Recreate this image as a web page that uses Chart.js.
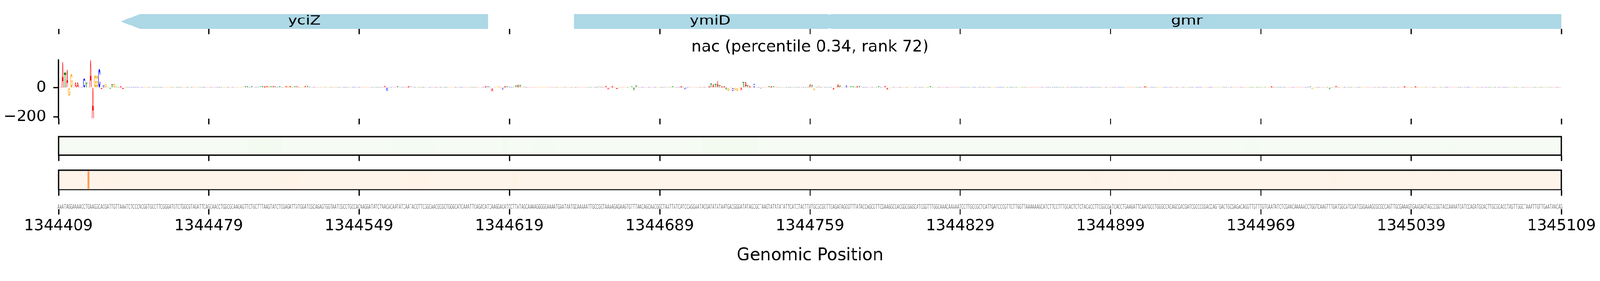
<!DOCTYPE html>
<html lang="en">
<head>
<meta charset="UTF-8">
<title>nac attribution track</title>
<script src="https://cdn.jsdelivr.net/npm/chart.js"></script>
<style>
  html, body { margin: 0; padding: 0; background: #fff; overflow: hidden; }
  #page { position: relative; width: 4320px; height: 720px; overflow: hidden; background: #fff; transform-origin: 0 0; }
  .panel { position: absolute; left: 0; width: 4320px; }
</style>
</head>
<body>
<div id="page">
  <div class="panel" style="top:0px"><canvas id="genes" width="4320" height="172"></canvas></div>
  <div class="panel" style="top:90px"><canvas id="logo" width="4320" height="260"></canvas></div>
  <div class="panel" style="top:355px"><canvas id="green" width="4320" height="81"></canvas></div>
  <div class="panel" style="top:440px"><canvas id="orange" width="4320" height="89"></canvas></div>
  <div class="panel" style="top:520px"><canvas id="seq" width="4320" height="200"></canvas></div>
</div>
<script>
// ---- data ----
const seqStart = 1344409;
const seqEnd = 1345109;
const xTicks = [1344409, 1344479, 1344549, 1344619, 1344689, 1344759, 1344829, 1344899, 1344969, 1345039, 1345109];
const yTicks = [-200, 0];
const titleText = 'nac (percentile 0.34, rank 72)';
const xTitle = 'Genomic Position';

const seqPart0 = 'AAATAGGAAAACCTGAAGGCACGATTGTTAAATCTCCCACGGTGCCTTCGGGATGTCTGGCGTAGATTCAGCAACCTGGCGCAAGAGTTCTGCTTTAAGTATCTCGAGATTATGGAT';
const seqPart1 = 'CGCAGAGTGGTAATCGCCTGCCACAAGGATATCTAACACAATATCAATACGTTCGGCAACGCGCTGGGCATCAAATTCAGACATCAAGGACATCCTTATAGCAAAAGGGGGAAAATG';
const seqPart2 = 'AATAATGCAAAAATTGCCGCTAAAAGAGAAGTGTTTAACAGCAACGGCTAATTATCATCCAGGAATACGATATATAATGACGGGATATAGCGCTAAGTATATATATTCATCTACTTA';
const seqPart3 = 'TGCGCGCTTCAGATAGCGTTTATACCAGCGTTCGAAGGCGACGGCGGGCATCGGTTTGGCAAACAAAAATCCTTGCCGCTCATTGATCCCGTTCTTGGTTAAAAAAGCATCTTCCTT';
const seqPart4 = 'TGCACTCTCTACACCTTCGGCGATCACCTGAAGATTCAATGCCTGGGCCACAGCGACGATCGCCCGGACCAGTGACTGCGAGACAGGTTGTTTGTGAATATCTCGAACAAAAACCTGG';
const seqPart5 = 'TCAAGTTTGATGGCATCGATCGGAAAGCGCGCCAGTTGCGAAAGTGAAGAGTAGCCGGTACCAAAATCATCCAGATGCACTTGCGCACCTAGTTGGCTAAATTGTTGAATAACAG';
const sequence = seqPart0 + seqPart1 + seqPart2 + seqPart3 + seqPart4 + seqPart5;

const geneNames  = ['yciZ', 'ymiD', 'gmr'];
const geneStart  = [1344438, 1344649, 1344760];
const geneEnd    = [1344609, 1344776, 1345300];
const geneStrand = [-1, 1, -1];

// logo letter heights (offset from seqStart -> value); other positions are tiny
const logoIdx = [0, 1, 2, 3, 4, 5, 6, 7, 8, 9, 10, 11, 12, 13, 14, 15, 16, 17, 18, 19, 20, 21, 22, 23, 24, 25, 26, 27, 28, 29, 30,
  86, 87, 88, 90, 93, 94, 95, 96, 97, 98, 99, 100, 101, 102, 103, 106, 107, 108, 110, 111, 115, 116,
  152, 153, 156, 158, 160, 163, 164, 166,
  199, 200, 202, 205, 207, 208, 209, 213, 214, 215, 217,
  221, 250, 251, 252, 255, 256, 258, 260, 267, 268, 269, 285, 286, 290, 292, 294,
  302, 303, 304, 305, 306, 307, 308, 309, 310, 311, 312, 313, 314, 315, 316, 317, 318, 319, 320, 321, 322, 323, 324, 325, 327,
  331, 332, 333, 336, 338,
  350, 351, 352, 354, 355, 361, 363, 364, 365, 367, 369, 370, 372, 373, 379, 382, 385, 386,
  400, 406, 413, 425, 428, 440, 447, 455,
  484, 498, 503, 506, 509, 512, 536, 553, 556, 565,
  583, 584, 592, 595, 596, 599, 620, 627, 632, 640, 643, 650, 656, 658];
const logoVal = [3, 4, 174, 102, 123, -54, 94, 4, 33, 33, 5, 4, 64, 30, 4, 187, -212, 85, 81, 129, -7, 18, 24, 3, -7, 22, 24, 4, 5, 8, -8,
  6, 7, 8, 6, 5, 7, 8, 6, 11, 9, 8, 12, 6, 5, 6, 10, 8, 12, 8, 11, 12, 10,
  10, -20, 5, 6, 5, 6, 7, 5,
  7, 8, -25, 9, -16, 8, 8, 14, 22, 18, 8,
  5, 6, 6, 7, 12, -10, 6, -8, 8, -20, 15, 5, 6, 7, -14, 5,
  5, 8, 26, 22, 25, 47, 18, 9, 9, -16, -22, 4, -22, -16, -22, 6, -19, 41, 39, 18, 7, 5, 24, 5, -8,
  6, 7, 6, 5, 5,
  19, 16, -18, 11, 5, -14, 22, 13, 5, 15, 8, 9, 9, 10, 5, 6, 12, -13,
  5, 6, 5, 5, 6, 5, 6, 5,
  5, 5, 5, 7, 5, 5, 5, 6, 5, 6,
  9, -7, -10, 10, 5, 5, 5, 6, 7, 5, 5, 5, 6, 5];
const smallHeight = 3;

// heatmap bands (offset ranges and colour-map values)
const greenBase = 0.01;
const greenFrom = [89, 156, 207, 222, 300, 553, 620, 648];
const greenTo   = [104, 175, 209, 230, 325, 558, 620, 650];
const greenVal  = [0.025, 0.02, 0.025, 0.02, 0.025, 0.02, 0.018, 0.02];
const orangeBase = 0.005;
const orangeFrom = [14, 20, 104, 163, 212, 482, 495, 517, 593, 631, 642, 650, 666];
const orangeTo   = [14, 28, 111, 171, 213, 484, 497, 517, 595, 631, 642, 650, 666];
const orangeVal  = [0.43, 0.018, 0.018, 0.018, 0.025, 0.015, 0.015, 0.015, 0.02, 0.015, 0.015, 0.015, 0.015];

// ---- styling ----
const FONT = '"DejaVu Sans", sans-serif';
const letterColor = { A: '#ff0000', C: '#0000ff', G: '#ffa500', T: '#008000' };
const greensStops = [[0, '#f7fcf5'], [0.125, '#e5f5e0'], [0.25, '#c7e9c0'], [0.375, '#a1d99b'], [0.5, '#74c476'], [0.625, '#41ab5d'], [0.75, '#238b45'], [0.875, '#006d2c'], [1, '#00441b']];
const orangesStops = [[0, '#fff5eb'], [0.125, '#fee6ce'], [0.25, '#fdd0a2'], [0.375, '#fdae6b'], [0.5, '#fd8d3c'], [0.625, '#f16913'], [0.75, '#d94801'], [0.875, '#a63603'], [1, '#7f2704']];
const HEAD_BP = 8.9;
const PLOT_LEFT = 158, PLOT_RIGHT_PAD = 104;

// keep the 4320x720 layout inside whatever CSS viewport the window reports
const page = document.getElementById('page');
const fit = Math.min(window.innerWidth / 4320, window.innerHeight / 720);
if (fit > 0 && Math.abs(fit - 1) > 0.001) page.style.transform = 'scale(' + fit + ')';

Chart.defaults.font.family = FONT;

function hexRgb(h) { return [parseInt(h.slice(1, 3), 16), parseInt(h.slice(3, 5), 16), parseInt(h.slice(5, 7), 16)]; }
function cmap(stops, v) {
  v = Math.max(0, Math.min(1, v));
  for (let k = 1; k < stops.length; k++) {
    if (v <= stops[k][0]) {
      const t = (v - stops[k - 1][0]) / (stops[k][0] - stops[k - 1][0]);
      const a = hexRgb(stops[k - 1][1]), b = hexRgb(stops[k][1]);
      return 'rgb(' + a.map((c, j) => Math.round(c + (b[j] - c) * t)).join(',') + ')';
    }
  }
  return stops[stops.length - 1][1];
}

const nPos = sequence.length;
const logoHeights = new Array(nPos).fill(smallHeight);
logoIdx.forEach((p, k) => { logoHeights[p] = logoVal[k]; });
const logoPoints = logoHeights.map((v, i) => ({ x: seqStart + i, y: v }));

function bandValues(base, from, to, val) {
  const out = new Array(nPos).fill(base);
  from.forEach((f, k) => { for (let p = f; p <= to[k]; p++) out[p] = val[k]; });
  return out;
}
const greenValues = bandValues(greenBase, greenFrom, greenTo, greenVal);
const orangeValues = bandValues(orangeBase, orangeFrom, orangeTo, orangeVal);

const tickGrid = { display: true, drawOnChartArea: false, drawTicks: true, tickLength: 14.6, tickWidth: 3.3, tickColor: '#000', offset: false };

function xAxis(height, showLabels) {
  return {
    type: 'linear', min: seqStart, max: seqEnd, offset: false,
    afterBuildTicks: s => { s.ticks = xTicks.map(v => ({ value: v })); },
    afterFit: s => { s.height = height; },
    ticks: { display: showLabels, maxRotation: 0, autoSkip: false, padding: 7, color: '#000',
             font: { family: FONT, size: 41.67 }, callback: v => String(v) },
    grid: tickGrid,
    border: { display: false }
  };
}

const common = {
  responsive: false, animation: false, devicePixelRatio: 1, events: []
};
const noPlugins = { legend: { display: false }, tooltip: { enabled: false }, title: { display: false } };

// ---- plugins drawing through the scales ----
const geneShapes = {
  id: 'geneShapes',
  afterDatasetsDraw(chart) {
    const { ctx, chartArea: a, scales: { x, y } } = chart;
    const top = y.getPixelForValue(1), bot = y.getPixelForValue(0), mid = (top + bot) / 2;
    const head = x.getPixelForValue(seqStart + HEAD_BP) - x.getPixelForValue(seqStart);
    ctx.save();
    ctx.beginPath(); ctx.rect(a.left, 0, a.right - a.left, chart.height); ctx.clip();
    ctx.fillStyle = '#add8e6';
    geneNames.forEach((name, k) => {
      const x0 = x.getPixelForValue(geneStart[k]), x1 = x.getPixelForValue(geneEnd[k]);
      ctx.beginPath();
      if (geneStrand[k] < 0) {
        ctx.moveTo(x0, mid); ctx.lineTo(x0 + head, top); ctx.lineTo(x1, top); ctx.lineTo(x1, bot); ctx.lineTo(x0 + head, bot);
      } else {
        ctx.moveTo(x0, top); ctx.lineTo(x1 - head, top); ctx.lineTo(x1, mid); ctx.lineTo(x1 - head, bot); ctx.lineTo(x0, bot);
      }
      ctx.closePath(); ctx.fill();
    });
    ctx.fillStyle = '#000';
    ctx.font = '34px ' + FONT;
    ctx.textAlign = 'center';
    ctx.textBaseline = 'middle';
    geneNames.forEach((name, k) => {
      const c = (Math.max(geneStart[k], seqStart) + Math.min(geneEnd[k], seqEnd)) / 2;
      ctx.save();
      ctx.translate(x.getPixelForValue(c), mid - 1);
      ctx.scale(1.24, 1);
      ctx.fillText(name, 0, 0);
      ctx.restore();
    });
    ctx.restore();
  }
};

const glyphCache = {};
function glyphMetrics(ctx, ch) {
  if (!glyphCache[ch]) {
    ctx.font = 'bold 200px "Liberation Sans", sans-serif';
    const m = ctx.measureText(ch);
    glyphCache[ch] = { l: m.actualBoundingBoxLeft, r: m.actualBoundingBoxRight, a: m.actualBoundingBoxAscent, d: m.actualBoundingBoxDescent };
  }
  return glyphCache[ch];
}

const logoLetters = {
  id: 'logoLetters',
  afterDatasetsDraw(chart) {
    const { ctx, chartArea: a } = chart;
    const meta = chart.getDatasetMeta(0);
    ctx.save();
    ctx.beginPath(); ctx.rect(a.left, a.top, a.right - a.left, a.bottom - a.top); ctx.clip();
    ctx.textAlign = 'left';
    ctx.textBaseline = 'alphabetic';
    meta.data.forEach((bar, i) => {
      const p = bar.getProps(['x', 'y', 'base', 'width'], true);
      const top = Math.min(p.y, p.base), h = Math.abs(p.base - p.y);
      if (h < 0.2) return;
      const ch = sequence[i];
      const g = glyphMetrics(ctx, ch);
      ctx.save();
      ctx.translate(p.x - p.width / 2, top);
      ctx.scale(p.width / (g.l + g.r), h / (g.a + g.d));
      ctx.font = 'bold 200px "Liberation Sans", sans-serif';
      ctx.fillStyle = letterColor[ch];
      ctx.fillText(ch, g.l, g.a);
      ctx.restore();
    });
    ctx.restore();
  }
};

function heatFrame(baseColor) {
  return {
    id: 'heatFrame',
    beforeDatasetsDraw(chart) {
      const { ctx, chartArea: a } = chart;
      ctx.save();
      ctx.fillStyle = baseColor;
      ctx.fillRect(a.left, a.top, a.right - a.left, a.bottom - a.top);
      ctx.restore();
    },
    afterDatasetsDraw(chart) {
      const { ctx, chartArea: a } = chart;
      ctx.save();
      ctx.strokeStyle = '#d4d4d4';
      ctx.lineWidth = 1.5;
      ctx.beginPath();
      ctx.moveTo(a.left, a.top + 2.4); ctx.lineTo(a.right, a.top + 2.4);
      ctx.moveTo(a.left, a.bottom - 3.6); ctx.lineTo(a.right, a.bottom - 3.6);
      ctx.stroke();
      ctx.strokeStyle = '#000';
      ctx.lineWidth = 3.3;
      ctx.strokeRect(a.left, a.top, a.right - a.left, a.bottom - a.top - 1.4);
      ctx.restore();
    }
  };
}

const seqLetters = {
  id: 'seqLetters',
  afterDraw(chart) {
    const { ctx, chartArea: a, scales: { x } } = chart;
    ctx.save();
    ctx.font = '16px ' + FONT;
    ctx.fillStyle = '#707070';
    ctx.textAlign = 'center';
    ctx.textBaseline = 'alphabetic';
    for (let i = 0; i < sequence.length; i++) {
      const px = x.getPixelForValue(seqStart + i);
      ctx.save();
      ctx.translate(px, a.bottom - 1);
      ctx.scale(0.5, 1);
      ctx.fillText(sequence[i], 0, 0);
      ctx.restore();
    }
    ctx.restore();
  }
};

// ---- charts ----
// gene track; the logo panel's title sits in this chart's bottom title box so it centres over the plot
new Chart(document.getElementById('genes'), {
  type: 'scatter',
  data: { datasets: [{ data: [] }] },
  options: Object.assign({}, common, {
    layout: { padding: { left: PLOT_LEFT, right: PLOT_RIGHT_PAD, top: 38, bottom: 0 } },
    plugins: {
      legend: { display: false }, tooltip: { enabled: false },
      title: { display: true, position: 'bottom', text: titleText, color: '#000',
               font: { family: FONT, size: 43, weight: 'normal' }, padding: { top: 2, bottom: 18.4 } }
    },
    scales: { x: xAxis(22, false), y: { display: false, min: 0, max: 1 } }
  }),
  plugins: [geneShapes]
});

new Chart(document.getElementById('logo'), {
  type: 'bar',
  data: { datasets: [{ data: logoPoints, backgroundColor: 'rgba(0,0,0,0)', borderWidth: 0, barPercentage: 0.92, categoryPercentage: 1 }] },
  options: Object.assign({}, common, {
    layout: { padding: { left: 0, right: PLOT_RIGHT_PAD, top: 72, bottom: 0 } },
    plugins: noPlugins,
    scales: {
      x: xAxis(29, false),
      y: {
        min: -213, max: 190,
        afterBuildTicks: s => { s.ticks = yTicks.map(v => ({ value: v })); },
        afterFit: s => { s.width = PLOT_LEFT; s.paddingTop = 0; s.paddingBottom = 0; },
        ticks: { color: '#000', padding: 19, font: { family: FONT, size: 41.67 },
                 callback: v => (v < 0 ? '\u2212' + Math.abs(v) : String(v)) },
        grid: tickGrid,
        border: { display: true, color: '#000', width: 3.3 }
      }
    }
  }),
  plugins: [logoLetters]
});

function heatChart(id, values, stops, base, topPad) {
  new Chart(document.getElementById(id), {
    type: 'bar',
    data: { datasets: [{ data: values.map((v, i) => ({ x: seqStart + i, y: 1 })),
                         backgroundColor: values.map(v => cmap(stops, v)), borderWidth: 0,
                         barPercentage: 1, categoryPercentage: 1 }] },
    options: Object.assign({}, common, {
      layout: { padding: { left: PLOT_LEFT, right: PLOT_RIGHT_PAD, top: topPad, bottom: 0 } },
      plugins: noPlugins,
      scales: { x: xAxis(15, false), y: { display: false, min: 0, max: 1 } }
    }),
    plugins: [heatFrame(cmap(stops, base))]
  });
}
heatChart('green', greenValues, greensStops, greenBase, 14);
heatChart('orange', orangeValues, orangesStops, orangeBase, 20);

const seqAxis = xAxis(154, true);
seqAxis.title = { display: true, text: xTitle, color: '#000', font: { family: FONT, size: 45.8 }, padding: { top: 0, bottom: 0 } };
new Chart(document.getElementById('seq'), {
  type: 'scatter',
  data: { datasets: [{ data: [] }] },
  options: Object.assign({}, common, {
    layout: { padding: { left: PLOT_LEFT, right: PLOT_RIGHT_PAD, top: 20, bottom: 1 } },
    plugins: noPlugins,
    scales: { x: seqAxis, y: { display: false, min: 0, max: 1 } }
  }),
  plugins: [seqLetters]
});
</script>
</body>
</html>
